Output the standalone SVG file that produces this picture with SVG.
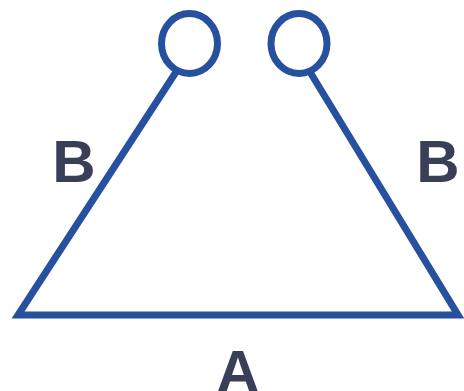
<svg xmlns="http://www.w3.org/2000/svg" width="464" height="391" viewBox="0 0 464 391">
<style>
.ln{fill:none;stroke:#27509f;stroke-width:7;stroke-linejoin:miter}
.lb{font-family:"Liberation Sans",Arial,sans-serif;font-weight:bold;font-size:60px;fill:#3a3f58}
</style>
<rect width="464" height="391" fill="#ffffff"/>
<g id="connectors">
<path class="ln" d="M176,72 L18,315 L458,315 L310,72"/>
</g>
<g id="node-left"><ellipse class="ln" cx="189.5" cy="43.5" rx="28" ry="30"/></g>
<g id="node-right"><ellipse class="ln" cx="299" cy="43.5" rx="28" ry="30"/></g>
<g id="label-A"><text class="lb" x="238" y="392" text-anchor="middle">A</text></g>
<g id="label-B-left"><text class="lb" x="74" y="182" text-anchor="middle">B</text></g>
<g id="label-B-right"><text class="lb" x="438" y="182" text-anchor="middle">B</text></g>
</svg>
